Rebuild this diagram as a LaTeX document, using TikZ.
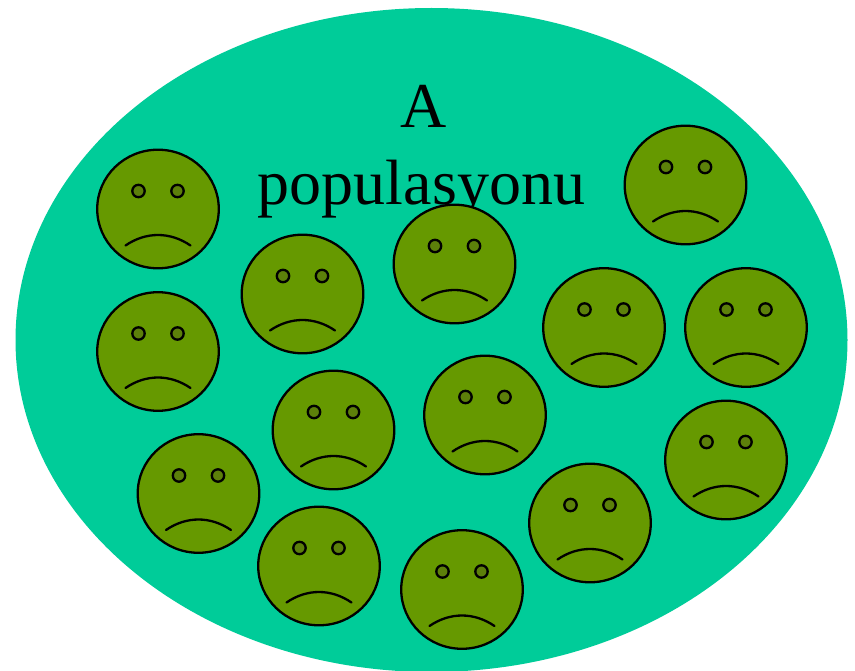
\documentclass[tikz,border=0pt]{standalone}
\usepackage{fontspec}
\setmainfont{Liberation Serif}
\definecolor{pop}{RGB}{0,204,153}
\definecolor{face}{RGB}{102,153,0}
\definecolor{eye}{RGB}{92,128,10}
\tikzset{
  x=1pt,y=-1pt,
  facebody/.style={draw=black,fill=face,line width=2.3pt},
  faceeye/.style={draw=black,fill=eye,line width=2.3pt},
  faceline/.style={draw=black,line width=2.3pt,line cap=round},
  poptext/.style={font=\fontsize{64}{64}\selectfont,inner sep=0pt},
}
\newcommand{\sadface}[2]{%
  \begin{scope}[shift={(#1,#2)}]
    \draw[facebody] (0,0) ellipse [x radius=60.8,y radius=59.3];
    \draw[faceeye] (-19.5,-18) circle [radius=6.2];
    \draw[faceeye] (19.5,-18) circle [radius=6.2];
    \draw[faceline] (-32.5,36.5) .. controls (-12,22.5) and (12,22.5) .. (32.5,36.5);
  \end{scope}}
\begin{document}
\begin{tikzpicture}
\useasboundingbox (0,0) rectangle (855,671);
\fill[pop] (431.5,340) ellipse [x radius=416,y radius=332];
\node[poptext] (a) at (423.5,106) {A};
\node[poptext] (p) at (421.5,189.5) {populasyonu};
\sadface{158}{209}
\sadface{302.5}{294}
\sadface{454.5}{264}
\sadface{685.5}{185}
\sadface{158}{351.5}
\sadface{604}{327.5}
\sadface{746}{327.5}
\sadface{333.5}{430}
\sadface{485}{415}
\sadface{198.5}{493.5}
\sadface{726}{460}
\sadface{590}{523}
\sadface{319}{566}
\sadface{462}{589.5}
\end{tikzpicture}
\end{document}
